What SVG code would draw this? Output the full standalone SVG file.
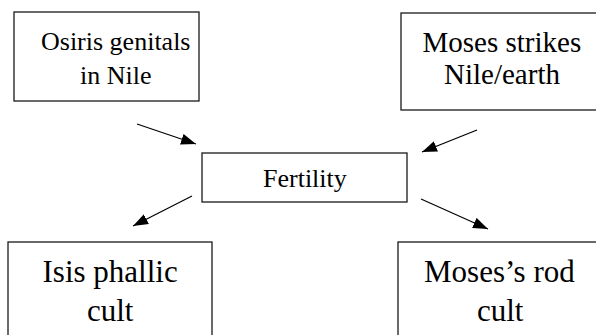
<svg xmlns="http://www.w3.org/2000/svg" width="596" height="335" viewBox="0 0 596 335">
<defs>
<style>
.box{fill:#fff;stroke:#1a1a1a;stroke-width:1.3}
.c{stroke:#000;stroke-width:1.2;fill:none}
</style>
<marker id="ah" viewBox="0 0 15 11" refX="15" refY="5.5" markerWidth="15" markerHeight="11" markerUnits="userSpaceOnUse" orient="auto">
<path d="M0,0 L15,5.5 L0,11 Z" fill="#000"/>
</marker>
</defs>
<rect width="596" height="335" fill="#fff"/>
<g id="osiris">
<rect class="box" x="14" y="12" width="185" height="89"/>
<text x="41" y="50" font-size="26" font-family="Liberation Serif, serif">Osiris genitals</text>
<text x="80" y="84" font-size="26" font-family="Liberation Serif, serif">in Nile</text>
</g>
<g id="moses-strikes">
<rect class="box" x="401" y="13" width="210" height="97"/>
<text x="422.5" y="52" font-size="29" font-family="Liberation Serif, serif">Moses strikes</text>
<text x="444" y="84" font-size="29" font-family="Liberation Serif, serif">Nile/earth</text>
</g>
<g id="fertility">
<rect class="box" x="202" y="153" width="205" height="49"/>
<text x="263" y="187" font-size="26" font-family="Liberation Serif, serif">Fertility</text>
</g>
<g id="isis">
<rect class="box" x="8" y="242" width="204" height="110"/>
<text x="42.5" y="282" font-size="31" font-family="Liberation Serif, serif">Isis phallic</text>
<text x="87" y="321" font-size="31" font-family="Liberation Serif, serif">cult</text>
</g>
<g id="moses-rod">
<rect class="box" x="398" y="242" width="210" height="110"/>
<text x="424" y="282" font-size="31" font-family="Liberation Serif, serif">Moses&#8217;s rod</text>
<text x="477" y="321" font-size="31" font-family="Liberation Serif, serif">cult</text>
</g>
<g id="connectors">
<line class="c" x1="137" y1="124" x2="196" y2="144" marker-end="url(#ah)"/>
<line class="c" x1="477" y1="130" x2="422" y2="152" marker-end="url(#ah)"/>
<line class="c" x1="192" y1="196" x2="133" y2="226" marker-end="url(#ah)"/>
<line class="c" x1="421" y1="199" x2="488" y2="229" marker-end="url(#ah)"/>
</g>
</svg>
